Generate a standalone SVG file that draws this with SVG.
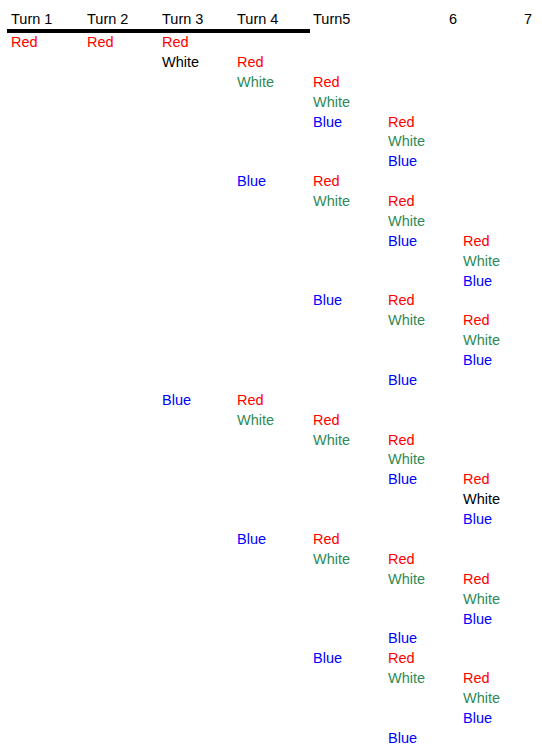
<svg xmlns="http://www.w3.org/2000/svg" width="542" height="756" viewBox="0 0 542 756">
<style>
text{font-family:"Liberation Sans",Arial,sans-serif;font-size:14.5px}
.h{fill:#000}
.r{fill:#ff0000}
.w{fill:#2e8b57}
.k{fill:#000}
.b{fill:#0000ff}
</style>
<rect width="542" height="756" fill="#fff"/>
<g id="header" transform="translate(0,-1)">
<text class="h" x="11" y="25">Turn 1</text>
<text class="h" x="87" y="25">Turn 2</text>
<text class="h" x="162" y="25">Turn 3</text>
<text class="h" x="237" y="25">Turn 4</text>
<text class="h" x="313" y="25">Turn5</text>
<text class="h" x="449" y="25">6</text>
<text class="h" x="524" y="25">7</text>
</g>
<rect x="7" y="29" width="303" height="4" fill="#000"/>
<g transform="translate(0,-1)">
<g id="n0"><text class="r" x="11" y="48">Red</text><text class="r" x="87" y="48">Red</text><text class="r" x="162" y="48">Red</text></g>
<g id="n1"><text class="k" x="162" y="68">White</text><text class="r" x="237" y="68">Red</text></g>
<g id="n2"><text class="w" x="237" y="88">White</text><text class="r" x="313" y="88">Red</text></g>
<g id="n3"><text class="w" x="313" y="108">White</text></g>
<g id="n4"><text class="b" x="313" y="128">Blue</text><text class="r" x="388" y="128">Red</text></g>
<g id="n5"><text class="w" x="388" y="147">White</text></g>
<g id="n6"><text class="b" x="388" y="167">Blue</text></g>
<g id="n7"><text class="b" x="237" y="187">Blue</text><text class="r" x="313" y="187">Red</text></g>
<g id="n8"><text class="w" x="313" y="207">White</text><text class="r" x="388" y="207">Red</text></g>
<g id="n9"><text class="w" x="388" y="227">White</text></g>
<g id="n10"><text class="b" x="388" y="247">Blue</text><text class="r" x="463" y="247">Red</text></g>
<g id="n11"><text class="w" x="463" y="267">White</text></g>
<g id="n12"><text class="b" x="463" y="287">Blue</text></g>
<g id="n13"><text class="b" x="313" y="306">Blue</text><text class="r" x="388" y="306">Red</text></g>
<g id="n14"><text class="w" x="388" y="326">White</text><text class="r" x="463" y="326">Red</text></g>
<g id="n15"><text class="w" x="463" y="346">White</text></g>
<g id="n16"><text class="b" x="463" y="366">Blue</text></g>
<g id="n17"><text class="b" x="388" y="386">Blue</text></g>
<g id="n18"><text class="b" x="162" y="406">Blue</text><text class="r" x="237" y="406">Red</text></g>
<g id="n19"><text class="w" x="237" y="426">White</text><text class="r" x="313" y="426">Red</text></g>
<g id="n20"><text class="w" x="313" y="446">White</text><text class="r" x="388" y="446">Red</text></g>
<g id="n21"><text class="w" x="388" y="465">White</text></g>
<g id="n22"><text class="b" x="388" y="485">Blue</text><text class="r" x="463" y="485">Red</text></g>
<g id="n23"><text class="k" x="463" y="505">White</text></g>
<g id="n24"><text class="b" x="463" y="525">Blue</text></g>
<g id="n25"><text class="b" x="237" y="545">Blue</text><text class="r" x="313" y="545">Red</text></g>
<g id="n26"><text class="w" x="313" y="565">White</text><text class="r" x="388" y="565">Red</text></g>
<g id="n27"><text class="w" x="388" y="585">White</text><text class="r" x="463" y="585">Red</text></g>
<g id="n28"><text class="w" x="463" y="605">White</text></g>
<g id="n29"><text class="b" x="463" y="625">Blue</text></g>
<g id="n30"><text class="b" x="388" y="644">Blue</text></g>
<g id="n31"><text class="b" x="313" y="664">Blue</text><text class="r" x="388" y="664">Red</text></g>
<g id="n32"><text class="w" x="388" y="684">White</text><text class="r" x="463" y="684">Red</text></g>
<g id="n33"><text class="w" x="463" y="704">White</text></g>
<g id="n34"><text class="b" x="463" y="724">Blue</text></g>
<g id="n35"><text class="b" x="388" y="744">Blue</text></g>
</g>
</svg>
